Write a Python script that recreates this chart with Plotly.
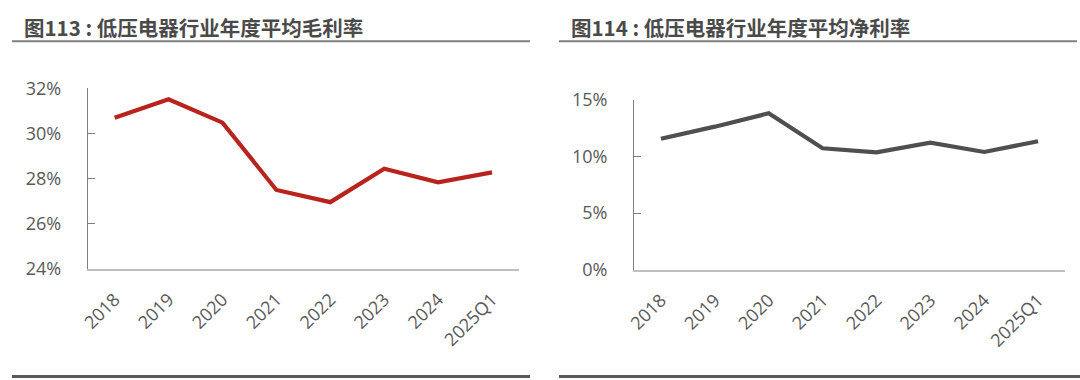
import plotly.graph_objects as go

W, H = 1080, 380

categories = ["2018", "2019", "2020", "2021", "2022", "2023", "2024", "2025Q1"]
gross_margin = [30.70, 31.51, 30.48, 27.50, 26.96, 28.44, 27.84, 28.28]
net_margin = [11.56, 12.62, 13.80, 10.71, 10.36, 11.21, 10.39, 11.33]
gross_ticks = [24, 26, 28, 30, 32]
gross_tick_labels = ["24%", "26%", "28%", "30%", "32%"]
net_ticks = [0, 5, 10, 15]
net_tick_labels = ["0%", "5%", "10%", "15%"]
title_left = "图113 : 低压电器行业年度平均毛利率"
title_right = "图114 : 低压电器行业年度平均净利率"


def px(x):
    return x / W


def py(y):
    return 1 - y / H


TICK_FONT = dict(family="Open Sans, Noto Sans CJK SC, sans-serif", size=18, color="#595959")

fig = go.Figure()
fig.add_trace(go.Scatter(x=categories, y=gross_margin, mode="lines",
                         line=dict(color="#B8231D", width=4.2), xaxis="x", yaxis="y",
                         showlegend=False, hoverinfo="skip"))
fig.add_trace(go.Scatter(x=categories, y=net_margin, mode="lines",
                         line=dict(color="#4F4F4F", width=4.2), xaxis="x2", yaxis="y2",
                         showlegend=False, hoverinfo="skip"))

xaxis_common = dict(type="category", range=[-0.5, 7.5], showline=True, linecolor="#BFBFBF",
                    linewidth=2, showgrid=False, zeroline=False, ticks="", tickangle=-45,
                    tickfont=TICK_FONT, ticklabelstandoff=11, fixedrange=True, automargin=False)
yaxis_common = dict(showline=True, linecolor="#7F7F7F", linewidth=1, showgrid=False,
                    zeroline=False, ticks="inside", ticklen=7, tickcolor="#7F7F7F",
                    tickwidth=1, tickmode="array", tickfont=TICK_FONT, ticklabelstandoff=22,
                    fixedrange=True, automargin=False)

fig.update_layout(
    template="none",
    width=W, height=H,
    autosize=False,
    margin=dict(l=0, r=0, t=0, b=0, pad=0),
    paper_bgcolor="white", plot_bgcolor="white",
    xaxis=dict(domain=[px(87.7), px(519)], anchor="y", **xaxis_common),
    yaxis=dict(domain=[py(269), py(88.3)], anchor="x", range=[24, 32],
               tickvals=gross_ticks, ticktext=gross_tick_labels, **yaxis_common),
    xaxis2=dict(domain=[px(634), px(1065)], anchor="y2", **xaxis_common),
    yaxis2=dict(domain=[py(269.7), py(99.7)], anchor="x2", range=[0, 15],
                tickvals=net_ticks, ticktext=net_tick_labels, **yaxis_common),
)

title_font = dict(family="Noto Sans CJK SC, sans-serif", size=20.5, color="#4A4A4A", weight="bold")
fig.add_annotation(text=title_left, x=px(22), y=py(27), xref="paper", yref="paper",
                   xanchor="left", yanchor="middle", showarrow=False, font=title_font)
fig.add_annotation(text=title_right, x=px(569), y=py(27), xref="paper", yref="paper",
                   xanchor="left", yanchor="middle", showarrow=False, font=title_font)

rules = [
    (12, 530, 41.3, 2, "#7F7F7F"),
    (559, 1077, 41.3, 2, "#7F7F7F"),
    (12, 530, 376.5, 3, "#595959"),
    (559, 1080, 376.5, 3, "#595959"),
]
for x0, x1, y, w, c in rules:
    fig.add_shape(type="line", xref="paper", yref="paper", x0=px(x0), x1=px(x1),
                  y0=py(y), y1=py(y), line=dict(color=c, width=w))

fig.write_html("out.html", config={"displayModeBar": False},
               post_script="document.body.style.margin='0';document.body.style.padding='0';")
